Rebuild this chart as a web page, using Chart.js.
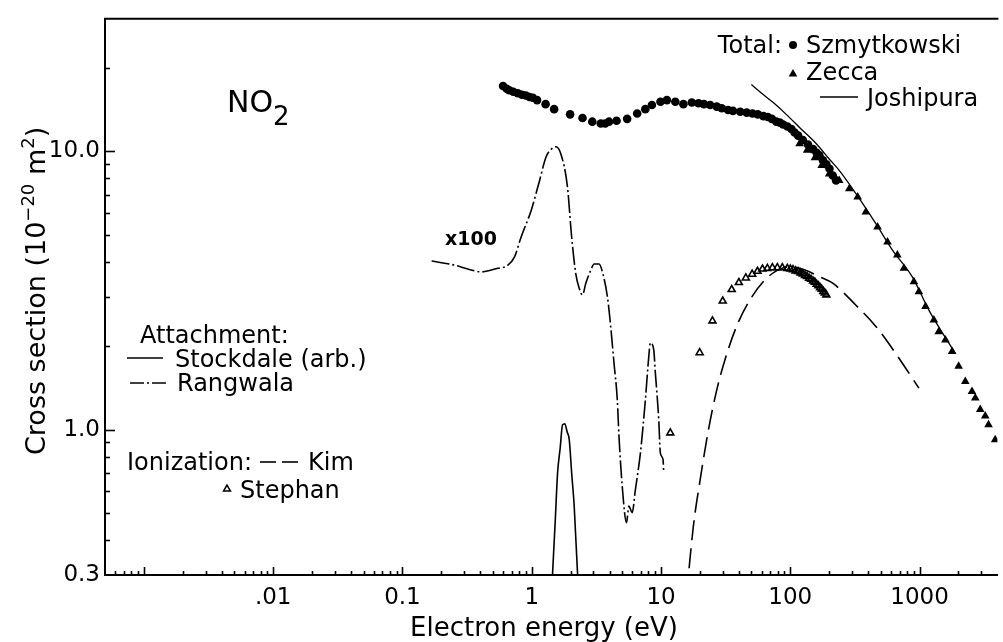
<!DOCTYPE html>
<html>
<head>
<meta charset="utf-8">
<script src="https://cdn.jsdelivr.net/npm/chart.js@4.4.1/dist/chart.umd.min.js"></script>
<style>
  html, body { margin: 0; padding: 0; background: #fff; }
  #wrap { width: 1003px; height: 642px; }
</style>
</head>
<body>
<div id="wrap"><canvas id="chart" width="1003" height="642"></canvas></div>
<script>
// NO2 electron scattering cross sections (10^-20 m^2) vs electron energy (eV)

// Total: Szmytkowski (dots)
const szmytE = [0.60, 0.64, 0.67, 0.72, 0.78, 0.84, 0.90, 0.96, 1.02, 1.10, 1.28, 1.49, 1.98, 2.47, 2.94, 3.42, 3.70, 3.96, 4.53, 5.47, 6.54, 7.56, 8.50, 9.90, 11.1, 12.9, 14.9, 17.3, 19.5, 21.5, 24.0, 27.0, 29.5, 33.0, 36.0, 41.0, 46.0, 51.0, 56.0, 62.0, 67.0, 72.0, 78.0, 83.0, 88.0, 95.0, 102, 108, 115, 125, 137, 150, 160, 168, 179, 190, 201, 213, 226];
const szmytS = [17.2, 16.8, 16.6, 16.4, 16.2, 16.0, 15.9, 15.7, 15.6, 15.3, 14.8, 14.2, 13.6, 13.2, 12.8, 12.6, 12.6, 12.8, 12.9, 13.1, 13.7, 14.2, 14.7, 15.1, 15.3, 15.1, 14.8, 15.0, 14.9, 14.8, 14.7, 14.5, 14.3, 14.1, 14.0, 13.9, 13.8, 13.7, 13.6, 13.4, 13.3, 13.1, 12.8, 12.7, 12.5, 12.3, 12.05, 11.7, 11.4, 11.0, 10.6, 10.2, 9.9, 9.68, 9.29, 9.0, 8.67, 8.2, 7.87];

// Total: Zecca (filled triangles)
const zeccaE = [118, 135, 155, 175, 200, 239, 286, 332, 384, 473, 565, 673, 757, 904, 988, 1112, 1289, 1407, 1585, 1785, 2005, 2259, 2543, 2697, 2946, 3221, 3415, 3845];
const zeccaS = [10.66, 10.1, 9.5, 8.9, 8.3, 7.87, 7.35, 6.86, 6.06, 5.35, 4.73, 4.24, 3.80, 3.40, 3.13, 2.77, 2.48, 2.25, 2.10, 1.91, 1.69, 1.49, 1.37, 1.30, 1.18, 1.12, 1.04, 0.92];

// Total: Joshipura (solid line)
const joshE = [50, 60, 75, 93, 120, 159, 200, 239, 322, 459, 617, 879, 1180, 1890];
const joshS = [17.4, 16.2, 14.9, 13.6, 12.1, 10.66, 9.4, 8.55, 7.05, 5.5, 4.42, 3.54, 2.69, 1.88];

// Attachment x100: Rangwala (dash-dot)
const rangE = [0.168, 0.20, 0.254, 0.32, 0.407, 0.48, 0.548, 0.654, 0.736, 0.828, 0.99, 1.15, 1.29, 1.42, 1.54, 1.68, 1.89, 2.03, 2.19, 2.33, 2.47, 2.62, 2.86, 3.04, 3.32, 3.52, 3.85, 4.08, 4.33, 4.59, 4.73, 5.01, 5.41, 5.64, 5.98, 6.34, 6.93, 7.57, 8.04, 8.27, 8.78, 9.04, 9.60, 9.88, 10.36, 10.5];
const rangS = [4.04, 3.98, 3.90, 3.78, 3.69, 3.74, 3.80, 3.90, 4.18, 4.93, 6.14, 7.87, 9.55, 10.2, 10.4, 9.8, 7.45, 5.0, 3.64, 3.22, 3.05, 3.36, 3.74, 3.94, 3.94, 3.69, 3.00, 2.35, 1.73, 1.28, 0.946, 0.626, 0.463, 0.531, 0.503, 0.610, 0.825, 1.28, 1.83, 2.05, 1.94, 1.60, 1.09, 0.825, 0.781, 0.70];

// Attachment (arb.): Stockdale (solid)
const stockE = [1.40, 1.45, 1.52, 1.585, 1.66, 1.73, 1.80, 1.88, 1.95, 2.04, 2.13, 2.26, 2.32];
const stockS = [0.22, 0.306, 0.47, 0.70, 0.86, 1.04, 1.05, 0.98, 0.92, 0.69, 0.531, 0.306, 0.22];

// Ionization: Kim (dashed)
const kimE = [15, 16.3, 17.8, 20.1, 23.3, 27.0, 31.2, 38.4, 48.6, 61.7, 78, 98.8, 130, 165, 213, 322, 459, 653, 988];
const kimS = [0.20, 0.30, 0.45, 0.662, 1.0, 1.39, 1.78, 2.35, 2.92, 3.40, 3.72, 3.85, 3.75, 3.56, 3.36, 2.80, 2.35, 1.88, 1.41];

// Ionization: Stephan (open triangles)
const stephE = [11.8, 19.9, 25.0, 30.0, 35.2, 40.0, 45.3, 50.7, 55.7, 60.9, 66.5, 72.7, 79.4, 86.8, 94.8, 100, 105, 110, 115, 120, 125, 130, 135, 140, 145, 150, 155, 160, 165, 170, 175, 180, 185, 190];
const stephS = [0.973, 1.89, 2.46, 2.90, 3.19, 3.38, 3.51, 3.62, 3.71, 3.78, 3.80, 3.82, 3.82, 3.82, 3.80, 3.78, 3.76, 3.72, 3.70, 3.66, 3.63, 3.58, 3.55, 3.50, 3.47, 3.42, 3.39, 3.33, 3.29, 3.24, 3.20, 3.14, 3.10, 3.05];

// axis ticks
const xTickVals = [0.01, 0.1, 1, 10, 100, 1000];
const xTickLabels = ['.01', '0.1', '1', '10', '100', '1000'];
const yTickVals = [0.3, 1, 10];
const yTickLabels = ['0.3', '1.0', '10.0'];

const FONT = '"DejaVu Sans", "Liberation Sans", sans-serif';

function pts(xs, ys) {
  return xs.map(function (x, i) { return { x: x, y: ys[i] }; });
}

function lineSet(label, xs, ys, width, dash) {
  return {
    label: label,
    data: pts(xs, ys),
    showLine: true,
    pointRadius: 0,
    borderColor: '#000',
    borderWidth: width,
    borderDash: dash,
    cubicInterpolationMode: 'monotone'
  };
}

// inward tick marks, top frame line, legend and labels
const decor = {
  id: 'decor',
  afterDraw: function (chart) {
    const ctx = chart.ctx;
    const area = chart.chartArea;
    const xs = chart.scales.x;
    const ys = chart.scales.y;

    ctx.save();
    ctx.strokeStyle = '#000';
    ctx.fillStyle = '#000';

    // top frame line
    ctx.lineWidth = 2;
    ctx.beginPath();
    ctx.moveTo(area.left - 1, area.top);
    ctx.lineTo(area.right + 1, area.top);
    ctx.stroke();

    // x ticks (inside, from the bottom axis)
    ctx.lineWidth = 1.6;
    for (let d = -4; d <= 3; d++) {
      for (let m = 1; m <= 9; m++) {
        const v = m * Math.pow(10, d);
        if (v <= xs.min * 1.0001 || v >= xs.max) continue;
        const px = Math.round(xs.getPixelForValue(v)) + 0.5;
        const len = m === 1 ? 8 : 4;
        ctx.beginPath();
        ctx.moveTo(px, area.bottom);
        ctx.lineTo(px, area.bottom - len);
        ctx.stroke();
      }
    }
    // y ticks (inside, from the left axis)
    for (let d = -1; d <= 1; d++) {
      for (let m = 1; m <= 9; m++) {
        const v = m * Math.pow(10, d);
        if (v <= ys.min * 1.0001 || v >= ys.max * 0.999) continue;
        const py = Math.round(ys.getPixelForValue(v)) + 0.5;
        const len = m === 1 ? 10 : 5;
        ctx.beginPath();
        ctx.moveTo(area.left, py);
        ctx.lineTo(area.left + len, py);
        ctx.stroke();
      }
    }

    ctx.textBaseline = 'alphabetic';
    ctx.textAlign = 'left';

    // y axis title with superscripts, read bottom to top
    const parts = [
      ['Cross section (10', 27, 0],
      ['\u221220', 18, -11],
      [' m', 27, 0],
      ['2', 18, -11],
      [')', 27, 0]
    ];
    ctx.save();
    ctx.translate(45, 455);
    ctx.rotate(-Math.PI / 2);
    let cx = 0;
    parts.forEach(function (p) {
      ctx.font = p[1] + 'px ' + FONT;
      ctx.fillText(p[0], cx, p[2]);
      cx += ctx.measureText(p[0]).width;
    });
    ctx.restore();

    // x axis title
    ctx.font = '26px ' + FONT;
    ctx.textAlign = 'center';
    ctx.fillText('Electron energy (eV)', 544, 636);
    ctx.textAlign = 'left';

    // molecule name
    ctx.font = '30px ' + FONT;
    ctx.fillText('NO', 227, 112);
    const noW = ctx.measureText('NO').width;
    ctx.font = '26px ' + FONT;
    ctx.fillText('2', 227 + noW, 125);

    // scaling note for the attachment curve
    ctx.font = 'bold 19px ' + FONT;
    ctx.fillText('x100', 445, 245);

    ctx.font = '24px ' + FONT;

    function seg(x1, x2, y, dash, w) {
      ctx.save();
      ctx.lineWidth = w;
      ctx.setLineDash(dash);
      ctx.beginPath();
      ctx.moveTo(x1, y);
      ctx.lineTo(x2, y);
      ctx.stroke();
      ctx.restore();
    }
    function tri(x, y, r, filled) {
      ctx.beginPath();
      ctx.moveTo(x, y - r);
      ctx.lineTo(x + r * 0.866, y + r * 0.5);
      ctx.lineTo(x - r * 0.866, y + r * 0.5);
      ctx.closePath();
      if (filled) ctx.fill();
      else { ctx.lineWidth = 1.5; ctx.stroke(); }
    }

    // total cross section legend
    ctx.textAlign = 'right';
    ctx.fillText('Total:', 782, 53);
    ctx.textAlign = 'left';
    ctx.beginPath();
    ctx.arc(793, 45, 4, 0, Math.PI * 2);
    ctx.fill();
    ctx.fillText('Szmytkowski', 806, 53);
    tri(793, 74, 5, true);
    ctx.fillText('Zecca', 806, 80);
    seg(820, 858, 97, [], 1.4);
    ctx.fillText('Joshipura', 867, 106);

    // attachment legend
    ctx.fillText('Attachment:', 140, 343);
    seg(127, 163, 358, [], 1.6);
    ctx.fillText('Stockdale (arb.)', 175, 367);
    seg(130, 166, 383, [14, 3, 2, 3], 1.6);
    ctx.fillText('Rangwala', 177, 391);

    // ionization legend
    ctx.fillText('Ionization:', 127, 470);
    seg(260, 276, 462, [], 1.6);
    seg(282, 298, 462, [], 1.6);
    ctx.fillText('Kim', 308, 470);
    tri(227, 489, 4, false);
    ctx.fillText('Stephan', 240, 498);

    ctx.restore();
  }
};

new Chart(document.getElementById('chart'), {
  type: 'scatter',
  data: {
    datasets: [
      {
        label: 'Szmytkowski',
        data: pts(szmytE, szmytS),
        pointStyle: 'circle',
        pointRadius: 4.3,
        backgroundColor: '#000',
        borderWidth: 0
      },
      {
        label: 'Zecca',
        data: pts(zeccaE, zeccaS),
        pointStyle: 'triangle',
        pointRadius: 5,
        backgroundColor: '#000',
        borderWidth: 0
      },
      lineSet('Joshipura', joshE, joshS, 1.3, []),
      lineSet('Rangwala', rangE, rangS, 1.6, [18, 3, 2, 3]),
      lineSet('Stockdale', stockE, stockS, 1.6, []),
      lineSet('Kim', kimE, kimS, 1.6, [20, 8]),
      {
        label: 'Stephan',
        data: pts(stephE, stephS),
        pointStyle: 'triangle',
        pointRadius: 4,
        backgroundColor: 'rgba(255,255,255,0)',
        borderColor: '#000',
        borderWidth: 1.6
      }
    ]
  },
  options: {
    responsive: false,
    animation: false,
    devicePixelRatio: 1,
    layout: { padding: { top: 15, right: 1, left: 0, bottom: 0 } },
    plugins: {
      legend: { display: false },
      tooltip: { enabled: false }
    },
    scales: {
      x: {
        type: 'logarithmic',
        min: 0.0005,
        max: 4000,
        afterBuildTicks: function (scale) {
          scale.ticks = xTickVals.map(function (v) { return { value: v }; });
        },
        afterFit: function (scale) { scale.height = 67; },
        grid: { display: false, drawTicks: false },
        border: { display: true, color: '#000', width: 2 },
        ticks: {
          color: '#000',
          font: { family: FONT, size: 23 },
          padding: 9,
          maxRotation: 0,
          autoSkip: false,
          callback: function (value, index) { return xTickLabels[index]; }
        }
      },
      y: {
        type: 'logarithmic',
        min: 0.3,
        max: 30,
        afterBuildTicks: function (scale) {
          scale.ticks = yTickVals.map(function (v) { return { value: v }; });
        },
        afterFit: function (scale) { scale.width = 105; },
        grid: { display: false, drawTicks: false },
        border: { display: true, color: '#000', width: 2 },
        ticks: {
          color: '#000',
          font: { family: FONT, size: 23 },
          padding: 5,
          autoSkip: false,
          callback: function (value, index) { return yTickLabels[index]; }
        }
      }
    }
  },
  plugins: [decor]
});
</script>
</body>
</html>
